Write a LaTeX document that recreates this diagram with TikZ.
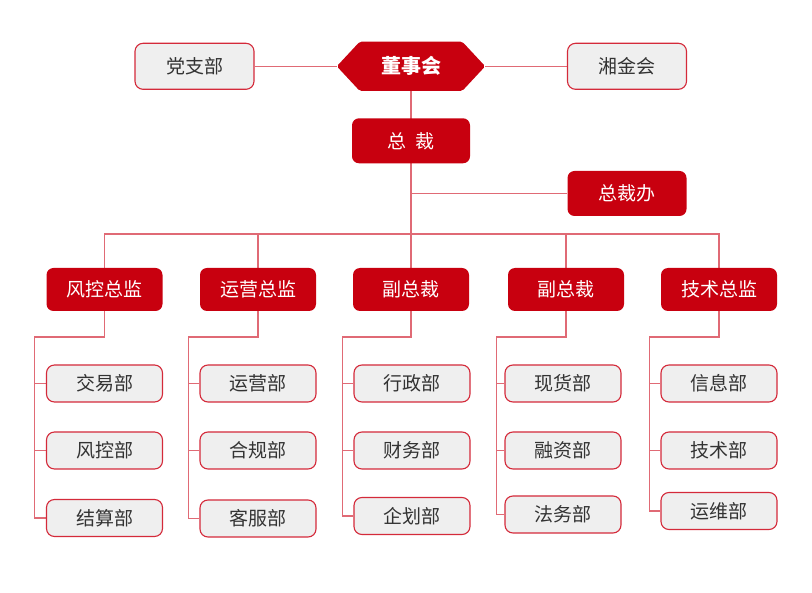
\documentclass[tikz,border=0pt]{standalone}
\usepackage{fontspec}
\newfontfamily\cjk{Noto Sans CJK SC}
\usetikzlibrary{backgrounds}
\definecolor{cred}{HTML}{C8000F}
\definecolor{cline}{HTML}{E06A75}
\definecolor{cborder}{HTML}{D42A3A}
\definecolor{cfill}{HTML}{EFEFEF}
\definecolor{ctext}{HTML}{333333}
\tikzset{
  redbox/.style={fill=cred, text=white, rounded corners=7pt, minimum width=116pt, minimum height=43pt, inner sep=0pt, font=\cjk\fontsize{19}{19}\selectfont},
  greybox/.style={fill=cfill, draw=cborder, line width=1.1pt, text=ctext, rounded corners=8pt, minimum width=116pt, minimum height=37pt, inner sep=0pt, font=\cjk\fontsize{19}{19}\selectfont},
  conn/.style={draw=cline, line width=1.5pt},
}
\begin{document}
\begin{tikzpicture}[x=1pt,y=-1pt]
\useasboundingbox (0,0) rectangle (812,593);
% top level
\node[greybox, minimum width=119pt, minimum height=46pt] (dzb) at (194.5,66.3) {党支部};
\node[greybox, minimum width=119pt, minimum height=46pt] (xjh) at (627,66.3) {湘金会};
\node[minimum width=148pt, minimum height=49pt, inner sep=0pt, text=white, font=\cjk\bfseries\fontsize{20}{20}\selectfont] (dsh) at (411,66.3) {董事会};
\node[redbox, minimum width=118pt, minimum height=45pt] (zc) at (411,140.8) {总\hspace{0.5em}裁};
\node[redbox, minimum width=119pt, minimum height=45pt] (zcb) at (627,193.5) {总裁办};
% heads
\node[redbox] (h1) at (104.5,289.5) {风控总监};
\node[redbox] (h2) at (258,289.5) {运营总监};
\node[redbox] (h3) at (411,289.5) {副总裁};
\node[redbox] (h4) at (566,289.5) {副总裁};
\node[redbox] (h5) at (719,289.5) {技术总监};
% children
\node[greybox] (c11) at (104.5,383.5) {交易部};
\node[greybox] (c12) at (104.5,450.5) {风控部};
\node[greybox] (c13) at (104.5,518) {结算部};
\node[greybox] (c21) at (258,383.5) {运营部};
\node[greybox] (c22) at (258,450.5) {合规部};
\node[greybox] (c23) at (258,518.5) {客服部};
\node[greybox] (c31) at (412,383.5) {行政部};
\node[greybox] (c32) at (412,450.5) {财务部};
\node[greybox] (c33) at (412,516) {企划部};
\node[greybox] (c41) at (563,383.5) {现货部};
\node[greybox] (c42) at (563,450.5) {融资部};
\node[greybox] (c43) at (563,514.5) {法务部};
\node[greybox] (c51) at (719,383.5) {信息部};
\node[greybox] (c52) at (719,450.5) {技术部};
\node[greybox] (c53) at (719,511) {运维部};
\coordinate (bus) at (411,234);
\coordinate (t1) at (34.3,337);
\coordinate (t2) at (188.7,337);
\coordinate (t3) at (342.7,337);
\coordinate (t4) at (496.7,337);
\coordinate (t5) at (649.3,337);
\begin{scope}[on background layer]
\fill[cred, rounded corners=2pt] (dsh.west) -- ([xshift=23pt]dsh.north west) -- ([xshift=-23pt]dsh.north east) -- (dsh.east) -- ([xshift=-23pt]dsh.south east) -- ([xshift=23pt]dsh.south west) -- cycle;
\path[conn] (dzb.east) -- (dsh.west);
\path[conn] (dsh.east) -- (xjh.west);
\path[conn] (dsh.south) -- (h3.north);
\path[conn] (zc.south |- zcb.west) -- (zcb.west);
\path[conn] (h1.north) |- (bus) -| (h5.north);
\path[conn] (h2.north) -- (h2.north |- bus);
\path[conn] (h4.north) -- (h4.north |- bus);
\path[conn] (h1.south) |- (t1) |- (c13.west);
\path[conn] (h2.south) |- (t2) |- (c23.west);
\path[conn] (h3.south) |- (t3) |- (c33.west);
\path[conn] (h4.south) |- (t4) |- (c43.west);
\path[conn] (h5.south) |- (t5) |- (c53.west);
\path[conn] (t1 |- c11.west) -- (c11.west);
\path[conn] (t1 |- c12.west) -- (c12.west);
\path[conn] (t2 |- c21.west) -- (c21.west);
\path[conn] (t2 |- c22.west) -- (c22.west);
\path[conn] (t3 |- c31.west) -- (c31.west);
\path[conn] (t3 |- c32.west) -- (c32.west);
\path[conn] (t4 |- c41.west) -- (c41.west);
\path[conn] (t4 |- c42.west) -- (c42.west);
\path[conn] (t5 |- c51.west) -- (c51.west);
\path[conn] (t5 |- c52.west) -- (c52.west);
\end{scope}
\end{tikzpicture}
\end{document}
